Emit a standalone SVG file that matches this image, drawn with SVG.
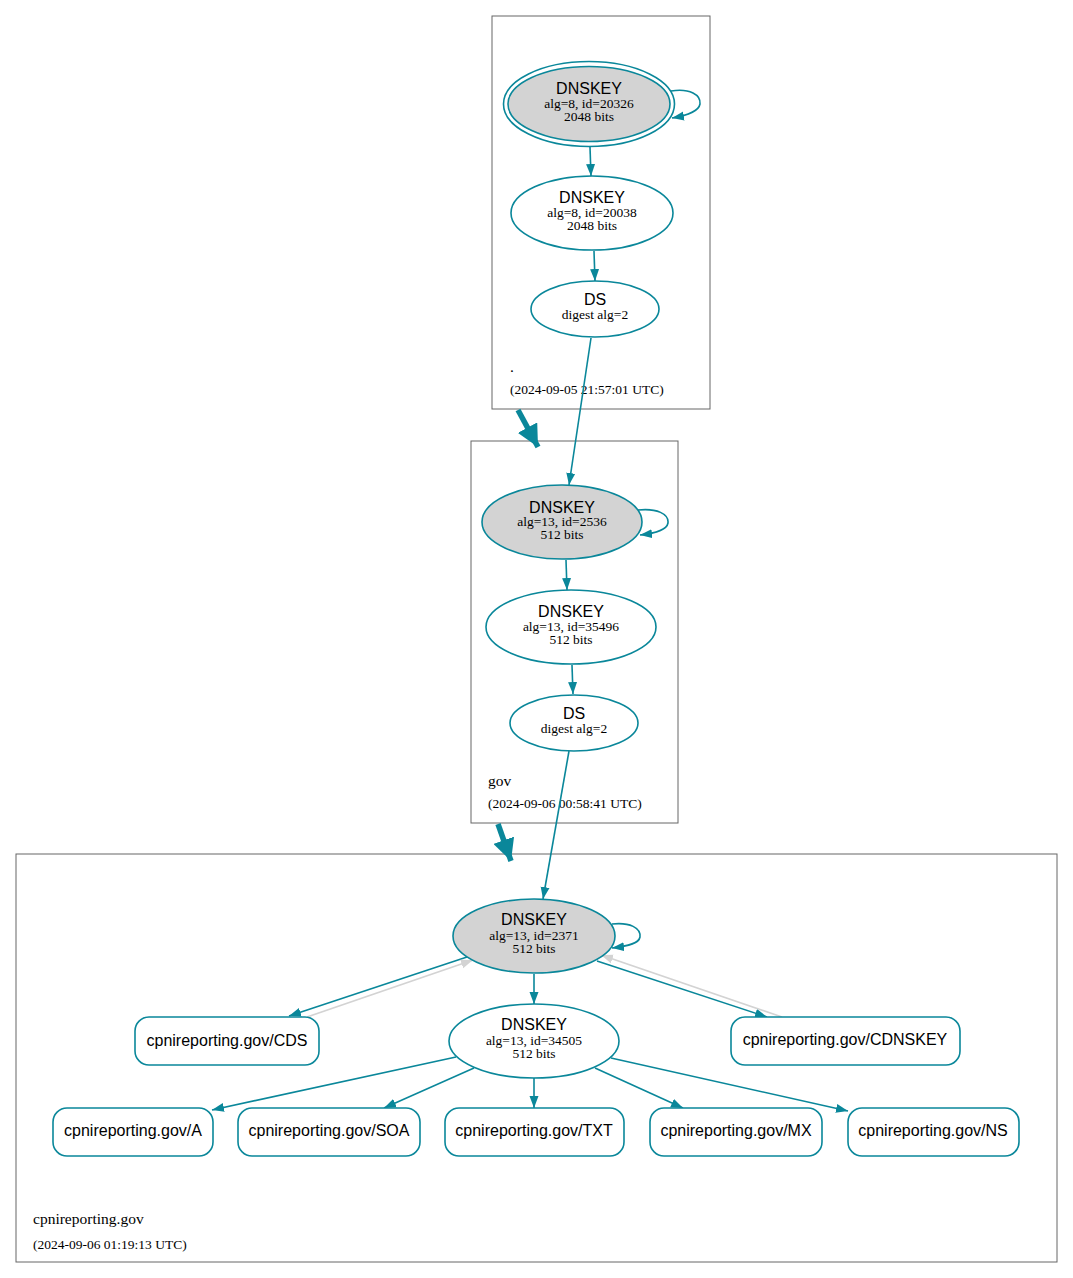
<svg xmlns="http://www.w3.org/2000/svg" width="1073" height="1278" viewBox="0 0 1073 1278">
<style>
.cluster{fill:none;stroke:#666;stroke-width:1}
.node{fill:#fff;stroke:#0a879a;stroke-width:1.6}
.key{fill:#d3d3d3;stroke:#0a879a;stroke-width:1.6}
.title{font-family:"Liberation Sans",Arial,sans-serif;font-size:16px;fill:#000;text-anchor:middle}
.sub{font-family:"Liberation Serif","Times New Roman",serif;font-size:13.5px;fill:#000;text-anchor:middle}
.clabel{font-family:"Liberation Serif","Times New Roman",serif;font-size:15.5px;fill:#000}
.cdate{font-family:"Liberation Serif","Times New Roman",serif;font-size:13.5px;fill:#000}
.e{fill:none;stroke:#0a879a;stroke-width:1.6;marker-end:url(#ah)}
.g{fill:none;stroke:#d3d3d3;stroke-width:1.8;marker-end:url(#gh)}
.big{fill:none;stroke:#0a879a;stroke-width:5.5;marker-end:url(#bh)}
</style>
<defs>
<marker id="ah" markerUnits="userSpaceOnUse" markerWidth="12" markerHeight="10" viewBox="0 0 12 10" refX="12" refY="5" orient="auto"><path d="M0,0.5 L12,5 L0,9.5 z" fill="#0a879a"/></marker>
<marker id="gh" markerUnits="userSpaceOnUse" markerWidth="12" markerHeight="10" viewBox="0 0 12 10" refX="12" refY="5" orient="auto"><path d="M0,0.5 L12,5 L0,9.5 z" fill="#d3d3d3"/></marker>
<marker id="bh" markerUnits="userSpaceOnUse" markerWidth="22" markerHeight="22" viewBox="0 0 22 22" refX="22" refY="11" orient="auto"><path d="M0,0 L22,11 L0,22 z" fill="#0a879a"/></marker>
</defs>
<rect width="1073" height="1278" fill="#fff"/>

<g id="cluster_root">
<rect class="cluster" x="492" y="16" width="218" height="393"/>
<text class="clabel" x="510" y="372">.</text>
<text class="cdate" x="510" y="394">(2024-09-05 21:57:01 UTC)</text>
</g>
<g id="cluster_gov">
<rect class="cluster" x="471" y="441" width="207" height="382"/>
<text class="clabel" x="488" y="786">gov</text>
<text class="cdate" x="488" y="808">(2024-09-06 00:58:41 UTC)</text>
</g>
<g id="cluster_cpni">
<rect class="cluster" x="16" y="854" width="1041" height="408"/>
<text class="clabel" x="33" y="1224">cpnireporting.gov</text>
<text class="cdate" x="33" y="1249">(2024-09-06 01:19:13 UTC)</text>
</g>

<g id="connectors">
<path class="e" d="M671,91 C690,88 701,95 700,104 C699,110 690,115 672,118"/>
<path class="e" d="M590,147 L591,176"/>
<path class="e" d="M594,251 L595,281"/>
<path class="e" d="M591,338 L569,485"/>
<path class="big" d="M518,410 L538,447"/>
<path class="e" d="M638,510 C657,508 669,514 668,523 C667,529 658,533 640,535"/>
<path class="e" d="M566,560 L567,590"/>
<path class="e" d="M572,665 L573,694"/>
<path class="e" d="M569,751 L543,899"/>
<path class="big" d="M498,824 L511,861"/>
<path class="e" d="M612,924 C630,922 641,928 640,937 C639,943 630,946 612,948"/>
<path class="e" d="M534,974 L534,1004"/>
<path class="e" d="M467,957 L289,1016"/>
<path class="g" d="M307,1017 L473,960"/>
<path class="e" d="M597,961 L767,1017"/>
<path class="g" d="M782,1017 L601,955"/>
<path class="e" d="M456,1057 L212,1110"/>
<path class="e" d="M474,1068 L384,1108"/>
<path class="e" d="M534,1078 L534,1108"/>
<path class="e" d="M595,1068 L683,1108"/>
<path class="e" d="M611,1058 L848,1111"/>
</g>

<g id="root_dnskey_20326">
<ellipse class="key" cx="589" cy="104" rx="85.5" ry="42.5" style="fill:none"/>
<ellipse class="key" cx="589" cy="104" rx="81" ry="37.5"/>
<text class="title" x="589" y="94">DNSKEY</text>
<text class="sub" x="589" y="108">alg=8, id=20326</text>
<text class="sub" x="589" y="121">2048 bits</text>
</g>
<g id="root_dnskey_20038">
<ellipse class="node" cx="592" cy="213" rx="81" ry="37"/>
<text class="title" x="592" y="203">DNSKEY</text>
<text class="sub" x="592" y="217">alg=8, id=20038</text>
<text class="sub" x="592" y="230">2048 bits</text>
</g>
<g id="root_ds">
<ellipse class="node" cx="595" cy="309" rx="64" ry="28"/>
<text class="title" x="595" y="305">DS</text>
<text class="sub" x="595" y="319">digest alg=2</text>
</g>

<g id="gov_dnskey_2536">
<ellipse class="key" cx="562" cy="522" rx="80" ry="37"/>
<text class="title" x="562" y="513">DNSKEY</text>
<text class="sub" x="562" y="526">alg=13, id=2536</text>
<text class="sub" x="562" y="539">512 bits</text>
</g>
<g id="gov_dnskey_35496">
<ellipse class="node" cx="571" cy="627" rx="85" ry="37"/>
<text class="title" x="571" y="617">DNSKEY</text>
<text class="sub" x="571" y="631">alg=13, id=35496</text>
<text class="sub" x="571" y="644">512 bits</text>
</g>
<g id="gov_ds">
<ellipse class="node" cx="574" cy="723" rx="64" ry="28"/>
<text class="title" x="574" y="719">DS</text>
<text class="sub" x="574" y="733">digest alg=2</text>
</g>

<g id="cpni_dnskey_2371">
<ellipse class="key" cx="534" cy="936" rx="81" ry="37"/>
<text class="title" x="534" y="925">DNSKEY</text>
<text class="sub" x="534" y="940">alg=13, id=2371</text>
<text class="sub" x="534" y="953">512 bits</text>
</g>
<g id="cpni_dnskey_34505">
<ellipse class="node" cx="534" cy="1041" rx="85" ry="37"/>
<text class="title" x="534" y="1030">DNSKEY</text>
<text class="sub" x="534" y="1045">alg=13, id=34505</text>
<text class="sub" x="534" y="1058">512 bits</text>
</g>
<g id="rr_cds">
<rect class="node" x="135" y="1017" width="184" height="48" rx="14"/>
<text class="title" x="227" y="1046">cpnireporting.gov/CDS</text>
</g>
<g id="rr_cdnskey">
<rect class="node" x="731" y="1017" width="229" height="48" rx="14"/>
<text class="title" x="845" y="1045">cpnireporting.gov/CDNSKEY</text>
</g>
<g id="rr_a">
<rect class="node" x="53" y="1108" width="160" height="48" rx="14"/>
<text class="title" x="133" y="1136">cpnireporting.gov/A</text>
</g>
<g id="rr_soa">
<rect class="node" x="238" y="1108" width="182" height="48" rx="14"/>
<text class="title" x="329" y="1136">cpnireporting.gov/SOA</text>
</g>
<g id="rr_txt">
<rect class="node" x="445" y="1108" width="179" height="48" rx="14"/>
<text class="title" x="534" y="1136">cpnireporting.gov/TXT</text>
</g>
<g id="rr_mx">
<rect class="node" x="650" y="1108" width="172" height="48" rx="14"/>
<text class="title" x="736" y="1136">cpnireporting.gov/MX</text>
</g>
<g id="rr_ns">
<rect class="node" x="848" y="1108" width="171" height="48" rx="14"/>
<text class="title" x="933" y="1136">cpnireporting.gov/NS</text>
</g>
</svg>
